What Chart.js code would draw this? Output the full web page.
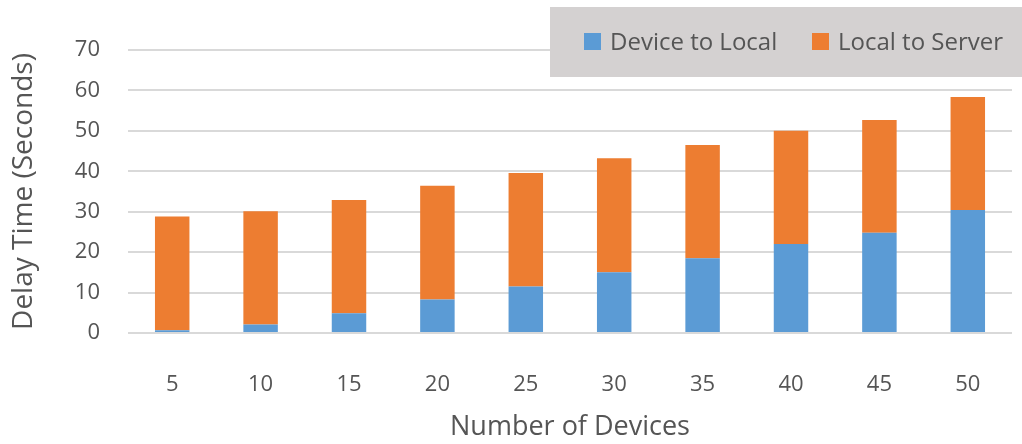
<!DOCTYPE html>
<html>
<head>
<meta charset="utf-8">
<script src="https://cdn.jsdelivr.net/npm/chart.js@4.4.1/dist/chart.umd.min.js"></script>
<style>
  html, body { margin: 0; padding: 0; background: #fff; }
  #wrap { width: 1022px; height: 444px; position: relative; }
</style>
</head>
<body>
<div id="wrap"><canvas id="delayChart" width="1022" height="444"></canvas></div>
<script>
// Values
const devices = ["5", "10", "15", "20", "25", "30", "35", "40", "45", "50"];
const deviceToLocal = [0.7, 2.1, 4.9, 8.3, 11.5, 15.0, 18.5, 22.0, 24.8, 30.4];
const localToServer = [28.1, 28.0, 28.0, 28.1, 28.1, 28.2, 28.0, 28.0, 27.9, 28.0];

const textColor = "#555555";
const fontName = "'Open Sans', 'Liberation Sans', sans-serif";

// Legend sits in a grey box laid over the top right of the plot
const boxLegend = {
  id: "boxLegend",
  afterDraw(chart) {
    const ctx = chart.ctx;
    ctx.save();
    ctx.fillStyle = "#d4d1d1";
    ctx.fillRect(550, 7, 472, 70);
    ctx.font = "24px " + fontName;
    ctx.textBaseline = "middle";
    const starts = [584, 812];
    chart.data.datasets.forEach((ds, i) => {
      const x = starts[i];
      ctx.fillStyle = ds.backgroundColor;
      ctx.fillRect(x, 33, 17, 17);
      ctx.fillStyle = textColor;
      ctx.fillText(ds.label, x + 26, 43);
    });
    ctx.restore();
  }
};

const ctx = document.getElementById("delayChart").getContext("2d");
new Chart(ctx, {
  type: "bar",
  data: {
    labels: devices,
    datasets: [
      {
        label: "Device to Local",
        data: deviceToLocal,
        backgroundColor: "#5b9bd5",
        barPercentage: 0.39,
        categoryPercentage: 1
      },
      {
        label: "Local to Server",
        data: localToServer,
        backgroundColor: "#ed7d31",
        barPercentage: 0.39,
        categoryPercentage: 1
      }
    ]
  },
  options: {
    responsive: false,
    animation: false,
    layout: { padding: { top: 50, right: 10, left: 0, bottom: 0 } },
    plugins: {
      legend: { display: false },
      tooltip: { enabled: false }
    },
    scales: {
      x: {
        stacked: true,
        grid: { display: false },
        border: { display: false },
        ticks: { color: textColor, font: { size: 22, family: fontName }, padding: 31 },
        title: {
          display: true,
          text: "Number of Devices",
          color: textColor,
          font: { size: 27, family: fontName },
          padding: { top: 18, bottom: 0 }
        },
        afterFit(scale) { scale.height = 111; }
      },
      y: {
        stacked: true,
        min: 0,
        max: 70,
        ticks: { stepSize: 10, color: textColor, font: { size: 22, family: fontName }, padding: 28 },
        grid: { color: "#d9d9d9", lineWidth: 2, drawTicks: false },
        border: { display: false },
        title: {
          display: true,
          text: "Delay Time (Seconds)",
          color: textColor,
          font: { size: 28, family: fontName },
          padding: { top: 7, bottom: 0 }
        },
        afterFit(scale) { scale.width = 128; }
      }
    }
  },
  plugins: [boxLegend]
});
</script>
</body>
</html>
